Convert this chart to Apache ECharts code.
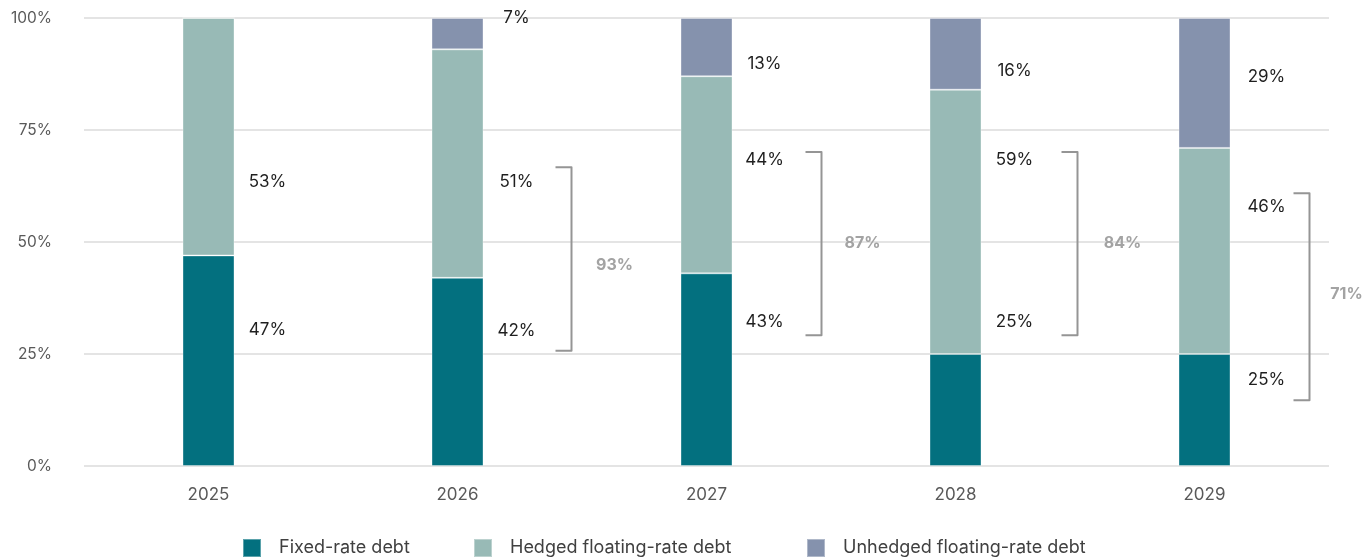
<!DOCTYPE html>
<html>
<head>
<meta charset="utf-8">
<script src="https://cdn.jsdelivr.net/npm/echarts@6/dist/echarts.min.js"></script>
<style>
  html, body { margin: 0; padding: 0; background: #ffffff; }
  #chart { width: 1363px; height: 558px; }
</style>
</head>
<body>
<div id="chart"></div>
<script>
// Debt mix by year, in percent of total debt
const years = ['2025', '2026', '2027', '2028', '2029'];
const fixedRate = [47, 42, 43, 25, 25];
const hedgedFloating = [53, 51, 44, 59, 46];
const unhedgedFloating = [0, 7, 13, 16, 29];
const yTicks = [0, 25, 50, 75, 100];
const seriesNames = ['Fixed-rate debt', 'Hedged floating-rate debt', 'Unhedged floating-rate debt'];

// Where the value labels and the hedged-total brackets sit (axis units / px offsets)
const labelAnchorFixed = [30.4, 30.1, 32.1, 32.1, 19.2];
const labelAnchorHedged = [63.4, 63.4, 68.3, 68.3, 57.8];
const labelAnchorUnhedged = [null, 100, 89.7, 88.2, 86.8];
const bracketSpan = [null, [25.7, 66.7], [29.2, 70.1], [29.2, 70.1], [14.7, 60.9]];
const bracketTextAnchor = [null, 44.9, 49.8, 49.8, 38.4];
const bracketDx = [0, 114, 115, 122, 105];
const bracketTextDx = [0, 157, 156, 167, 142];
const labelDx = [59, 59, 58, 59, 62];
const legendLeft = [242, 473, 806];

const COLORS = ['#03707f', '#98bab6', '#8592ad'];
const FONT = 'Inter, "Open Sans", sans-serif';

// Value label items: [yearIndex, anchor, value]
const labelItems = [];
years.forEach((y, i) => {
  labelItems.push([i, labelAnchorFixed[i], fixedRate[i]]);
  labelItems.push([i, labelAnchorHedged[i], hedgedFloating[i]]);
  if (unhedgedFloating[i] > 0) labelItems.push([i, labelAnchorUnhedged[i], unhedgedFloating[i]]);
});

// Bracket items: [yearIndex, low, high, text anchor, hedged total]
const bracketItems = [];
years.forEach((y, i) => {
  if (bracketSpan[i]) bracketItems.push([i, bracketSpan[i][0], bracketSpan[i][1], bracketTextAnchor[i], fixedRate[i] + hedgedFloating[i]]);
});

const stackValues = [fixedRate, hedgedFloating, unhedgedFloating];
const barSeries = seriesNames.map((name, k) => ({
  type: 'bar',
  name: name,
  stack: 'debt',
  barWidth: 52,
  data: stackValues[k],
  itemStyle: { color: COLORS[k], borderColor: 'rgba(255,255,255,0.35)', borderWidth: 1 }
}));

const legends = seriesNames.map((name, k) => ({
  data: [name],
  left: legendLeft[k],
  top: 538,
  padding: 0,
  itemWidth: 18,
  itemHeight: 18,
  icon: 'rect',
  textStyle: { fontFamily: FONT, fontSize: 18, color: '#404040', padding: [0, 0, 0, 13] }
}));

const chart = echarts.init(document.getElementById('chart'));
chart.setOption({
  animation: false,
  backgroundColor: '#ffffff',
  textStyle: { fontFamily: FONT },
  grid: { left: 84, right: 34, top: 18, bottom: 92 },
  legend: legends,
  xAxis: {
    type: 'category',
    data: years,
    axisLine: { show: false },
    axisTick: { show: false },
    axisLabel: { color: '#595959', fontSize: 17, margin: 20, fontFamily: FONT }
  },
  yAxis: {
    type: 'value',
    min: yTicks[0],
    max: yTicks[yTicks.length - 1],
    interval: 25,
    axisLine: { show: false },
    axisTick: { show: false },
    axisLabel: { color: '#595959', fontSize: 15.5, margin: 32, fontFamily: FONT, formatter: '{value}%' },
    splitLine: { lineStyle: { color: '#e4e4e4', width: 2 } }
  },
  series: barSeries.concat([
    {
      type: 'custom',
      name: 'values',
      coordinateSystem: 'cartesian2d',
      encode: { x: 0, y: 1 },
      data: labelItems,
      z: 10,
      clip: false,
      silent: true,
      renderItem: function (params, api) {
        const i = api.value(0);
        const p = api.coord([i, api.value(1)]);
        return {
          type: 'text',
          style: {
            x: p[0] + labelDx[i],
            y: p[1],
            text: api.value(2) + '%',
            fill: '#1f1f1f',
            font: '17px ' + FONT,
            align: 'center',
            verticalAlign: 'middle'
          }
        };
      }
    },
    {
      type: 'custom',
      name: 'brackets',
      coordinateSystem: 'cartesian2d',
      encode: { x: 0, y: [1, 2] },
      data: bracketItems,
      z: 10,
      clip: false,
      silent: true,
      renderItem: function (params, api) {
        const i = api.value(0);
        const lo = api.coord([i, api.value(1)]);
        const hi = api.coord([i, api.value(2)]);
        const mid = api.coord([i, api.value(3)]);
        const x = lo[0] + bracketDx[i];
        const tick = 16;
        return {
          type: 'group',
          children: [
            {
              type: 'polyline',
              shape: { points: [[x - tick, hi[1]], [x, hi[1]], [x, lo[1]], [x - tick, lo[1]]] },
              style: { stroke: '#959595', lineWidth: 2, fill: null, lineJoin: 'round' }
            },
            {
              type: 'text',
              style: {
                x: lo[0] + bracketTextDx[i],
                y: mid[1],
                text: api.value(4) + '%',
                fill: '#a3a3a3',
                font: 'bold 16px ' + FONT,
                align: 'center',
                verticalAlign: 'middle'
              }
            }
          ]
        };
      }
    }
  ])
});
</script>
</body>
</html>
